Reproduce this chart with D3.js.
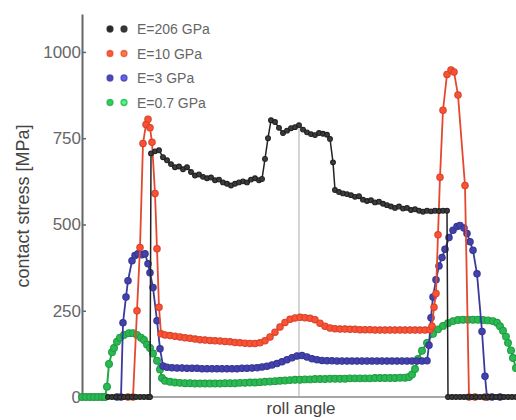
<!DOCTYPE html>
<html><head><meta charset="utf-8">
<script src="https://cdn.jsdelivr.net/npm/d3@7"></script>
<style>body{margin:0;background:#fff}svg{display:block;font-family:"Liberation Sans",Arial,sans-serif}</style>
</head><body><svg id="c" width="516" height="420"></svg>
<script>
// ---- data (roll angle in arbitrary degrees, contact stress in MPa) ----
const yTicks = [0, 250, 500, 750, 1000];
const seriesNames = ["E=206 GPa", "E=10 GPa", "E=3 GPa", "E=0.7 GPa"];
const seriesColors = ["#222222", "#e4492f", "#3b3a9c", "#25a84a"];

const e206 = [[-19.1,0],[-18.7,0],[-18.3,0],[-17.9,0],[-17.5,0],[-17.1,0],[-16.7,0],[-16.3,0],[-15.9,0],[-15.5,0],[-15.1,0],[-14.9,0],
 [-14.8,706],[-14.4,712],[-14.0,715],[-13.6,695],[-13.2,686],[-12.8,675],[-12.4,666],[-12.0,668],[-11.6,660],[-11.2,666],[-10.8,652],[-10.4,642],
 [-10.0,645],[-9.6,638],[-9.2,634],[-8.8,636],[-8.4,628],[-8.0,630],[-7.6,622],[-7.2,618],[-6.8,613],[-6.4,618],[-6.0,622],[-5.6,625],[-5.2,622],
 [-4.8,630],[-4.4,634],[-4.0,628],[-3.7,632],[-3.4,690],[-3.1,750],[-2.8,802],[-2.4,797],[-2.0,780],[-1.6,765],[-1.2,772],[-0.8,779],[-0.4,782],
 [0,788],[0.4,775],[0.8,767],[1.2,762],[1.6,759],[2.0,765],[2.4,763],[2.8,760],[3.1,748],[3.4,680],[3.6,600],[4.0,594],[4.4,590],[4.8,588],
 [5.2,585],[5.6,580],[6.0,582],[6.4,572],[6.8,568],[7.2,570],[7.6,564],[8.0,566],[8.4,560],[8.8,556],[9.2,552],[9.6,548],[10.0,552],[10.4,546],
 [10.8,548],[11.2,542],[11.6,544],[12.0,540],[12.4,537],[12.8,540],[13.2,538],[13.6,540],[14.0,539],[14.4,540],[14.8,540],
 [14.9,0],[15.3,0],[15.7,0],[16.1,0],[16.5,0],[16.9,0],[17.3,0],[17.7,0],[18.1,0],[18.5,0],[18.9,0],[19.3,0],[19.7,0],[20.1,0],[20.5,0],[20.9,0],[21.3,0],[21.7,0]];

const e10 = [[-17.1,0],[-16.6,0],[-16.2,250],[-15.9,433],[-15.6,735],[-15.3,790],[-15.1,805],[-14.9,780],[-14.7,738],[-14.4,590],[-14.2,430],[-14.0,260],
 [-13.8,183],[-13.4,180],[-12.9,178],[-12.4,176],[-11.9,174],[-11.4,172],[-10.9,170],[-10.4,168],[-9.9,166],[-9.4,165],[-8.9,164],[-8.4,163],
 [-7.9,162],[-7.4,161],[-6.9,160],[-6.4,158],[-5.9,157],[-5.4,156],[-4.9,155],[-4.4,155],[-3.9,157],[-3.4,163],[-2.9,174],[-2.4,188],[-1.9,203],
 [-1.4,216],[-0.9,225],[-0.4,229],[0.1,231],[0.6,230],[1.1,228],[1.6,224],[2.1,214],[2.6,205],[3.1,200],[3.6,198],[4.1,197],[4.6,197],[5.1,196],
 [5.6,196],[6.1,195],[6.6,195],[7.1,195],[7.6,194],[8.1,194],[8.6,194],[9.1,194],[9.6,194],[10.1,194],[10.6,194],[11.1,194],[11.6,194],[12.1,194],
 [12.6,194],[13.1,195],[13.3,205],[13.5,260],[13.7,300],[13.9,470],[14.1,637],[14.4,831],[14.8,935],[15.2,948],[15.5,942],[15.9,875],[16.6,613],
 [17.0,0],[17.6,0],[18.6,0]];

const e3 = [[-18.2,0],[-17.8,0],[-17.6,215],[-17.3,290],[-17.1,337],[-16.7,395],[-16.4,410],[-16.1,415],[-15.7,412],[-15.4,415],[-15.1,386],[-14.9,360],
 [-14.6,317],[-14.2,221],[-13.9,140],[-13.6,90],[-13.2,86],[-12.7,85],[-12.2,84],[-11.7,84],[-11.2,83],[-10.7,83],[-10.2,83],[-9.7,82],[-9.2,82],
 [-8.7,82],[-8.2,82],[-7.7,82],[-7.2,82],[-6.7,82],[-6.2,82],[-5.7,83],[-5.2,83],[-4.7,84],[-4.2,85],[-3.7,87],[-3.2,89],[-2.7,93],[-2.2,97],
 [-1.7,102],[-1.2,108],[-0.7,114],[-0.2,119],[0.3,120],[0.8,116],[1.3,111],[1.8,108],[2.3,106],[2.8,105],[3.3,105],[3.8,104],[4.3,104],[4.8,104],
 [5.3,104],[5.8,104],[6.3,104],[6.8,104],[7.3,104],[7.8,104],[8.3,104],[8.8,104],[9.3,104],[9.8,104],[10.3,104],[10.8,104],[11.3,104],[11.8,104],
 [12.3,104],[12.8,105],[13.0,150],[13.2,230],[13.4,290],[13.7,340],[14.0,380],[14.3,404],[14.6,428],[15.0,462],[15.4,483],[15.8,494],[16.1,497],
 [16.5,490],[16.8,474],[17.1,450],[17.4,425],[17.8,357],[18.3,190],[18.6,60],[18.8,0],[19.3,0],[20.1,0]];

const e07 = [[-21.7,0],[-21.3,0],[-20.9,0],[-20.5,0],[-20.1,0],[-19.7,0],[-19.4,0],[-19.2,30],[-19.0,96],[-18.7,130],[-18.5,142],[-18.2,160],[-17.9,172],
 [-17.5,180],[-17.0,185],[-16.6,185],[-16.2,180],[-15.8,172],[-15.5,165],[-15.2,152],[-14.9,142],[-14.6,126],[-14.2,105],[-13.9,80],[-13.7,55],
 [-13.4,47],[-12.9,44],[-12.4,42],[-11.9,41],[-11.4,40],[-10.9,40],[-10.4,39],[-9.9,39],[-9.4,39],[-8.9,39],[-8.4,39],[-7.9,39],[-7.4,40],[-6.9,40],
 [-6.4,40],[-5.9,41],[-5.4,41],[-4.9,42],[-4.4,42],[-3.9,43],[-3.4,44],[-2.9,45],[-2.4,46],[-1.9,47],[-1.4,48],[-0.9,49],[-0.4,50],[0.1,50],[0.6,51],
 [1.1,51],[1.6,52],[2.1,52],[2.6,52],[3.1,53],[3.6,53],[4.1,53],[4.6,53],[5.1,54],[5.6,54],[6.1,54],[6.6,54],[7.1,54],[7.6,55],[8.1,55],[8.6,55],
 [9.1,55],[9.6,55],[10.1,56],[10.6,56],[11.0,58],[11.3,65],[11.6,81],[11.9,110],[12.3,134],[12.8,157],[13.4,183],[13.9,196],[14.4,206],[14.9,214],
 [15.4,220],[15.9,223],[16.4,224],[16.9,224],[17.4,224],[17.9,224],[18.4,223],[18.9,222],[19.4,220],[19.8,215],[20.1,205],[20.4,192],[20.7,175],
 [20.9,157],[21.2,135],[21.4,113],[21.7,84]];

const centerAngle = 0, centerValue = 788;

// ---- drawing ----
const svg = d3.select("#c");
const x = d3.scaleLinear().domain([-21.7, 21.7]).range([82, 516]);
const y = d3.scaleLinear().domain([0, 1110]).range([397, 14]);

// baseline
svg.append("line").attr("x1", x(-21.7)).attr("x2", x(21.7)).attr("y1", y(0)).attr("y2", y(0))
  .attr("stroke", "#8a8a8a").attr("stroke-width", 1.5);
// centre marker line
svg.append("line").attr("x1", x(centerAngle)).attr("x2", x(centerAngle)).attr("y1", y(0)).attr("y2", y(centerValue))
  .attr("stroke", "#aaa").attr("stroke-width", 1);

// y axis
const yAxis = d3.axisLeft(y).tickValues(yTicks).tickFormat(d3.format("d"))
  .tickSizeInner(-4).tickSizeOuter(0).tickPadding(1);
const ga = svg.append("g").attr("transform", `translate(${x(-21.7)},0)`).call(yAxis);
ga.select(".domain").attr("stroke", "#666").attr("stroke-width", 2);
ga.selectAll(".tick line").attr("stroke", "#666").attr("stroke-width", 1.5);
ga.selectAll(".tick text").attr("fill", "#666").style("font-size", "17px").style("font-family", "'Liberation Sans',Arial,sans-serif");

const data = [e206, e10, e3, e07];
const radius = [2.4, 3.2, 3.2, 3.4];
const lineW = [1.5, 1.8, 1.8, 2];
const order = [3, 2, 1, 0];
const line = d3.line().x(d => x(d[0])).y(d => y(d[1]));
order.forEach(i => {
  const g = svg.append("g");
  const c = seriesColors[i];
  g.append("path").datum(data[i]).attr("d", line).attr("fill", "none")
    .attr("stroke", c).attr("stroke-width", lineW[i]).attr("stroke-linejoin", "round");
  g.selectAll("circle").data(data[i]).join("circle")
    .attr("cx", d => x(d[0])).attr("cy", d => y(d[1])).attr("r", radius[i])
    .attr("fill", d3.color(c).brighter(i === 0 ? 1.6 : 0.3)).attr("stroke", d3.color(c).darker(0.2)).attr("stroke-width", 1.1);
});

// legend
const lg = svg.append("g");
seriesNames.forEach((n, i) => {
  const ry = 29 + i * 24.5;
  const c = d3.color(seriesColors[i]);
  [110, 124].forEach((mx, k) => {
    lg.append("circle").attr("cx", mx).attr("cy", ry).attr("r", 3)
      .attr("fill", k === 0 ? c.brighter(0.6) : c.brighter(1.4)).attr("stroke", c).attr("stroke-opacity", 0.75).attr("stroke-width", 1.3);
  });
  lg.append("text").attr("x", 137).attr("y", ry + 5).text(n)
    .attr("fill", "#666").style("font-size", "14px");
});

// axis titles
svg.append("text").attr("x", 301).attr("y", 414).attr("text-anchor", "middle")
  .attr("fill", "#444").style("font-size", "17px").text("roll angle");
svg.append("text").attr("transform", "translate(29,206) rotate(-90)").attr("text-anchor", "middle")
  .attr("fill", "#444").style("font-size", "18px").text("contact stress [MPa]");
</script></body></html>
